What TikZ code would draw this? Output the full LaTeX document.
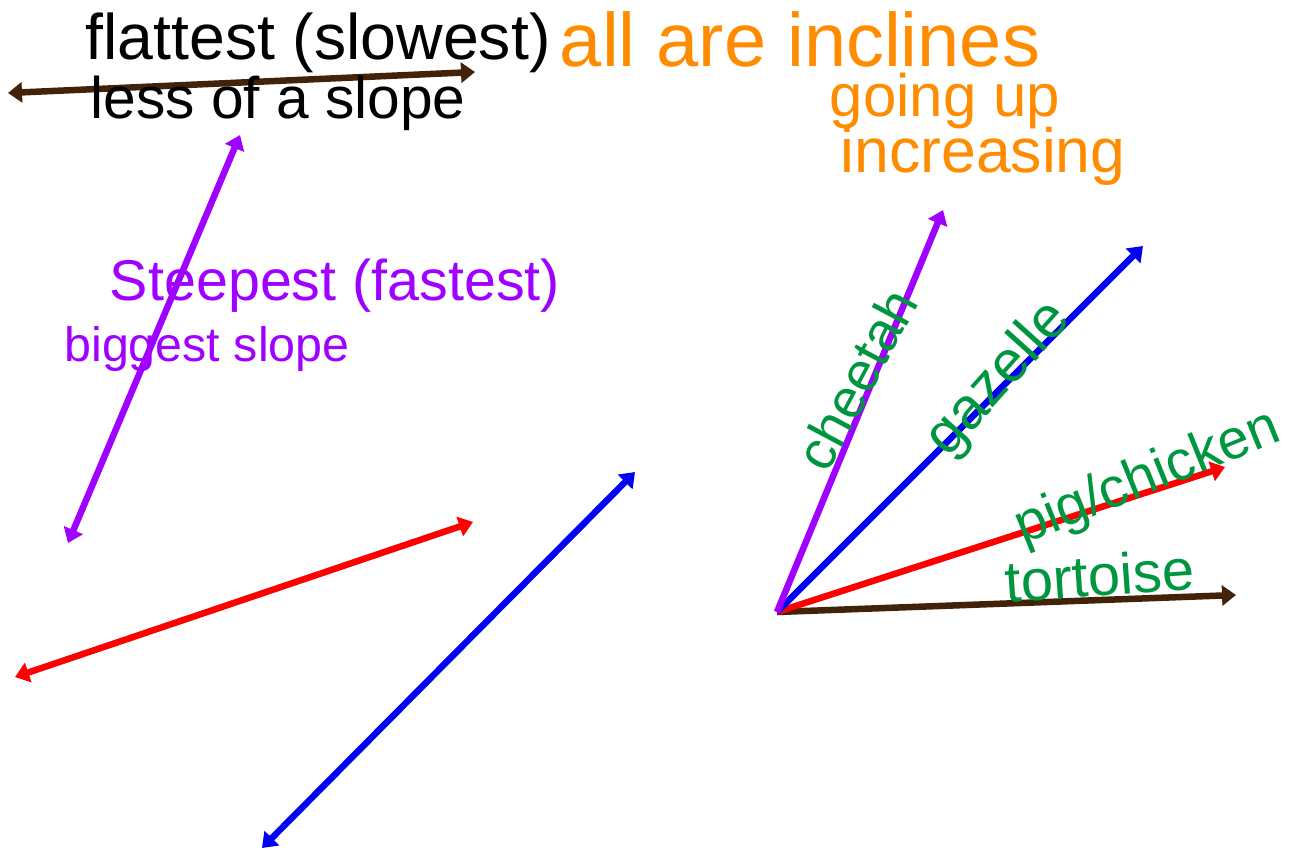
\documentclass[tikz,border=0pt]{standalone}
\usepackage{fontspec}
\setmainfont{Liberation Sans}
\usetikzlibrary{arrows.meta}
\definecolor{cbrown}{RGB}{66,34,8}
\definecolor{cpurple}{RGB}{160,0,255}
\definecolor{cred}{RGB}{255,0,0}
\definecolor{cblue}{RGB}{0,0,245}
\definecolor{cgreen}{RGB}{0,150,64}
\definecolor{corange}{RGB}{255,140,0}
\tikzset{
  ray/.style={line width=6.5pt, -{Triangle[length=14pt,width=20pt]}},
  dray/.style={line width=6.5pt, {Triangle[length=14pt,width=20pt]}-{Triangle[length=14pt,width=20pt]}},
  hand/.style={inner sep=0pt, anchor=center},
}
\newcommand{\fitw}[2]{\resizebox{#1pt}{!}{\strut #2}}
\begin{document}
\begin{tikzpicture}[x=1pt,y=-1pt]
\useasboundingbox (0,0) rectangle (1295,854);
% left side lines
\coordinate (bl1) at (8,93);   \coordinate (bl2) at (475,72);
\coordinate (pl1) at (68,543); \coordinate (pl2) at (240,135);
\coordinate (rl1) at (15,677); \coordinate (rl2) at (473,522);
\coordinate (ul1) at (262,848);\coordinate (ul2) at (635,472);
\draw[dray, cbrown] (bl1) -- (bl2);
\draw[dray, cpurple] (pl1) -- (pl2);
\draw[dray, cred] (rl1) -- (rl2);
\draw[dray, cblue] (ul1) -- (ul2);
% left labels
\node[hand, text=black] (t1) at (318,44) {\fitw{465}{flattest (slowest)}};
\node[hand, text=black] (t2) at (278,104) {\fitw{375}{less of a slope}};
\node[hand, text=cpurple] (t3) at (335,287) {\fitw{450}{Steepest (fastest)}};
\node[hand, text=cpurple] (t4) at (207,350) {\fitw{285}{biggest slope}};
% orange notes
\node[hand, text=corange] (o1) at (800,48) {\fitw{480}{all are inclines}};
\node[hand, text=corange] (o2) at (945,102) {\fitw{230}{going up}};
\node[hand, text=corange] (o3) at (983,157) {\fitw{285}{increasing}};
% right fan
\coordinate (O) at (777,612);
\coordinate (pe) at (943,210);
\coordinate (ue) at (1143,246);
\coordinate (re) at (1225,467);
\coordinate (be) at (1236,595);
\draw[ray, cbrown] (O) -- (be);
\draw[ray, cred] (O) -- (re);
\draw[ray, cblue] (O) -- (ue);
\draw[ray, cpurple] (O) -- (pe);
\node[hand, text=cgreen, rotate=62] (g1) at (862,382) {\fitw{195}{cheetah}};
\node[hand, text=cgreen, rotate=48] (g2) at (1000,380) {\fitw{185}{gazelle}};
\node[hand, text=cgreen, rotate=22] (g3) at (1148,480) {\fitw{280}{pig/chicken}};
\node[hand, text=cgreen, rotate=4] (g4) at (1100,582) {\fitw{190}{tortoise}};
\end{tikzpicture}
\end{document}
